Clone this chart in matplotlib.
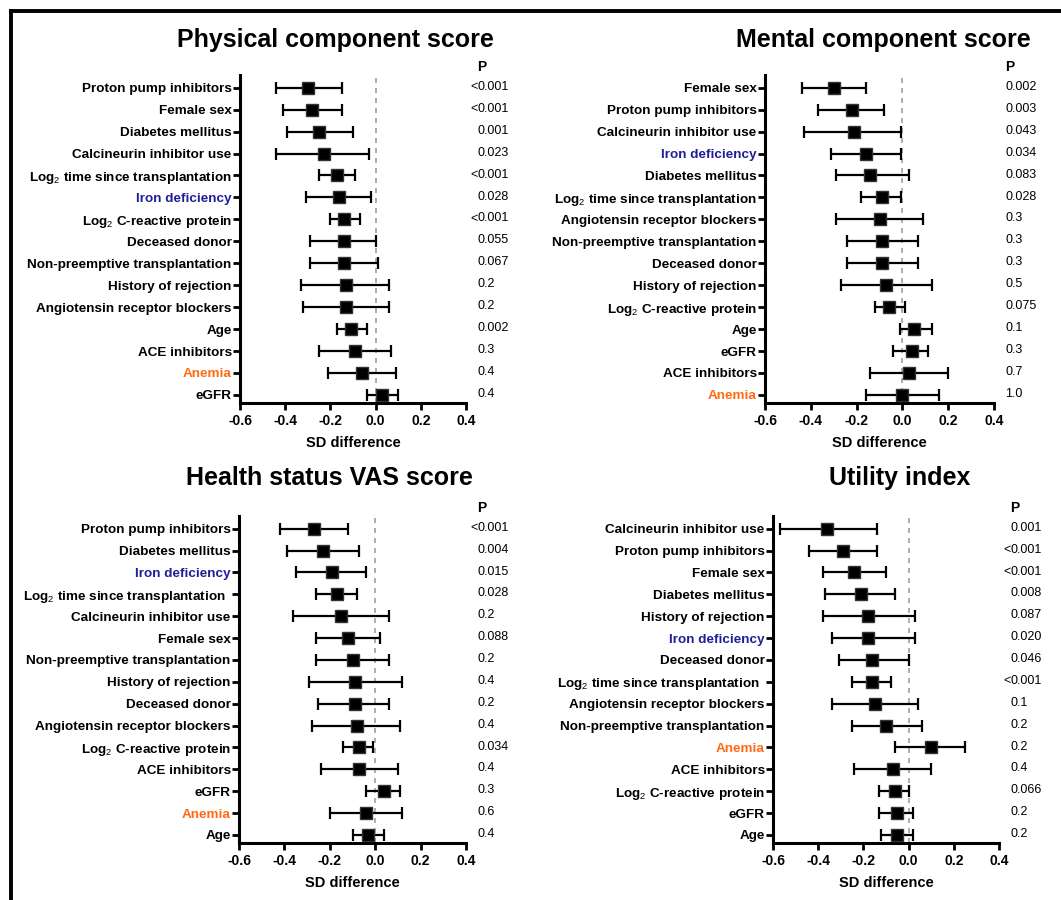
import matplotlib
matplotlib.use("Agg")
import matplotlib.pyplot as plt
from matplotlib.lines import Line2D

plt.rcParams["font.family"] = ["Liberation Sans", "DejaVu Sans"]
plt.rcParams["mathtext.fontset"] = "custom"
plt.rcParams["mathtext.rm"] = "Liberation Sans"
plt.rcParams["mathtext.it"] = "Liberation Sans"
plt.rcParams["mathtext.bf"] = "Liberation Sans:bold"

LOG2_TIME = "Log$_2$ time since transplantation"
LOG2_CRP = "Log$_2$ C-reactive protein"

# --- Physical component score ---
pcs_labels = ["Proton pump inhibitors", "Female sex", "Diabetes mellitus", "Calcineurin inhibitor use",
              LOG2_TIME, "Iron deficiency", LOG2_CRP, "Deceased donor", "Non-preemptive transplantation",
              "History of rejection", "Angiotensin receptor blockers", "Age", "ACE inhibitors", "Anemia", "eGFR"]
pcs_est = [-0.30, -0.28, -0.25, -0.23, -0.17, -0.16, -0.14, -0.14, -0.14, -0.13, -0.13, -0.11, -0.09, -0.06, 0.03]
pcs_lo = [-0.44, -0.41, -0.39, -0.44, -0.25, -0.31, -0.20, -0.29, -0.29, -0.33, -0.32, -0.17, -0.25, -0.21, -0.04]
pcs_hi = [-0.15, -0.15, -0.10, -0.03, -0.09, -0.02, -0.07, 0.00, 0.01, 0.06, 0.06, -0.04, 0.07, 0.09, 0.10]
pcs_p = ["<0.001", "<0.001", "0.001", "0.023", "<0.001", "0.028", "<0.001", "0.055", "0.067",
         "0.2", "0.2", "0.002", "0.3", "0.4", "0.4"]

# --- Mental component score ---
mcs_labels = ["Female sex", "Proton pump inhibitors", "Calcineurin inhibitor use", "Iron deficiency",
              "Diabetes mellitus", LOG2_TIME, "Angiotensin receptor blockers", "Non-preemptive transplantation",
              "Deceased donor", "History of rejection", LOG2_CRP, "Age", "eGFR", "ACE inhibitors", "Anemia"]
mcs_est = [-0.30, -0.22, -0.21, -0.16, -0.14, -0.09, -0.10, -0.09, -0.09, -0.07, -0.06, 0.05, 0.04, 0.03, 0.00]
mcs_lo = [-0.44, -0.37, -0.43, -0.31, -0.29, -0.18, -0.29, -0.24, -0.24, -0.27, -0.12, -0.01, -0.04, -0.14, -0.16]
mcs_hi = [-0.16, -0.08, -0.005, -0.005, 0.03, -0.005, 0.09, 0.07, 0.07, 0.13, 0.01, 0.13, 0.11, 0.20, 0.16]
mcs_p = ["0.002", "0.003", "0.043", "0.034", "0.083", "0.028", "0.3", "0.3", "0.3",
         "0.5", "0.075", "0.1", "0.3", "0.7", "1.0"]

# --- Health status VAS score ---
vas_labels = ["Proton pump inhibitors", "Diabetes mellitus", "Iron deficiency", LOG2_TIME + "\u00a0\u00a0",
              "Calcineurin inhibitor use", "Female sex", "Non-preemptive transplantation", "History of rejection",
              "Deceased donor", "Angiotensin receptor blockers", LOG2_CRP, "ACE inhibitors", "eGFR", "Anemia", "Age"]
vas_est = [-0.27, -0.23, -0.19, -0.17, -0.15, -0.12, -0.10, -0.09, -0.09, -0.08, -0.07, -0.07, 0.04, -0.04, -0.03]
vas_lo = [-0.42, -0.39, -0.35, -0.26, -0.36, -0.26, -0.26, -0.29, -0.25, -0.28, -0.14, -0.24, -0.04, -0.20, -0.10]
vas_hi = [-0.12, -0.07, -0.04, -0.08, 0.06, 0.02, 0.06, 0.12, 0.06, 0.11, -0.01, 0.10, 0.11, 0.12, 0.04]
vas_p = ["<0.001", "0.004", "0.015", "0.028", "0.2", "0.088", "0.2", "0.4", "0.2",
         "0.4", "0.034", "0.4", "0.3", "0.6", "0.4"]

# --- Utility index ---
ui_labels = ["Calcineurin inhibitor use", "Proton pump inhibitors", "Female sex", "Diabetes mellitus",
             "History of rejection", "Iron deficiency", "Deceased donor", LOG2_TIME + "\u00a0\u00a0",
             "Angiotensin receptor blockers", "Non-preemptive transplantation", "Anemia", "ACE inhibitors",
             LOG2_CRP, "eGFR", "Age"]
ui_est = [-0.36, -0.29, -0.24, -0.21, -0.18, -0.18, -0.16, -0.16, -0.15, -0.10, 0.10, -0.07, -0.06, -0.05, -0.05]
ui_lo = [-0.57, -0.44, -0.38, -0.37, -0.38, -0.34, -0.31, -0.25, -0.34, -0.25, -0.06, -0.24, -0.13, -0.13, -0.12]
ui_hi = [-0.14, -0.14, -0.10, -0.06, 0.03, 0.03, 0.00, -0.08, 0.04, 0.06, 0.25, 0.10, 0.00, 0.02, 0.02]
ui_p = ["0.001", "<0.001", "<0.001", "0.008", "0.087", "0.020", "0.046", "<0.001", "0.1",
        "0.2", "0.2", "0.4", "0.066", "0.2", "0.2"]

titles = ["Physical component score", "Mental component score", "Health status VAS score", "Utility index"]

BLUE = "#1f1f96"
ORANGE = "#ff6a13"

W, H = 1061, 900
fig = plt.figure(figsize=(W / 100, H / 100), dpi=100)


def px_axes(left, right, top, bottom):
    return fig.add_axes([left / W, 1 - bottom / H, (right - left) / W, (bottom - top) / H])


def draw_panel(ax, labels, est, lo, hi, pvals):
    rows = list(range(len(labels)))
    xerr = [[e - l for e, l in zip(est, lo)], [h - e for e, h in zip(est, hi)]]
    ax.axvline(0, color="#a0a0a0", lw=1.2, ls=(0, (3, 3)), zorder=1)
    ax.errorbar(est, rows, xerr=xerr, fmt="s", color="black", ms=9, mec="#333333",
                elinewidth=1.6, capsize=4, capthick=1.6, zorder=3)
    ax.set_xlim(-0.6, 0.4)
    ax.set_ylim(len(labels) - 1 + 0.37, -0.58)
    ax.set_xticks([-0.6, -0.4, -0.2, 0.0, 0.2, 0.4])
    ax.set_xticklabels(["-0.6", "-0.4", "-0.2", "0.0", "0.2", "0.4"], fontweight="bold", fontsize=10)
    ax.set_yticks(rows)
    ax.set_yticklabels(labels, fontweight="bold", fontsize=9.7)
    for t in ax.get_yticklabels():
        if t.get_text() == "Iron deficiency":
            t.set_color(BLUE)
        elif t.get_text() == "Anemia":
            t.set_color(ORANGE)
    ax.set_xlabel("SD difference", fontweight="bold", fontsize=10.5, labelpad=6)
    for s in ["top", "right"]:
        ax.spines[s].set_visible(False)
    for s in ["left", "bottom"]:
        ax.spines[s].set_linewidth(2.2)
    ax.tick_params(axis="both", width=2, length=5)
    ax.tick_params(axis="y", pad=1)
    ax.tick_params(axis="x", pad=3)
    # P value column
    px = 0.45
    ax.text(px, -0.95, "P", fontweight="bold", fontsize=10, ha="left", va="center", clip_on=False)
    for r, p in zip(rows, pvals):
        if p.startswith("<"):
            ax.text(px, r - 0.04, "<", fontsize=9, ha="right", va="center", clip_on=False)
            p = p[1:]
        ax.text(px, r - 0.04, p, fontsize=9, ha="left", va="center", clip_on=False)


ax1 = px_axes(240, 466, 75, 403)
ax2 = px_axes(765, 994, 75, 403)
ax3 = px_axes(239, 466, 516, 843)
ax4 = px_axes(773, 999, 516, 843)

draw_panel(ax1, pcs_labels, pcs_est, pcs_lo, pcs_hi, pcs_p)
draw_panel(ax2, mcs_labels, mcs_est, mcs_lo, mcs_hi, mcs_p)
draw_panel(ax3, vas_labels, vas_est, vas_lo, vas_hi, vas_p)
draw_panel(ax4, ui_labels, ui_est, ui_lo, ui_hi, ui_p)

title_pos = [(335, 40), (883, 40), (329, 478), (900, 478)]
for t, (x, y) in zip(titles, title_pos):
    fig.text(x / W, 1 - y / H, t, fontweight="bold", fontsize=18, ha="center", va="center")

# frame lines at the top and left edge
fig.add_artist(Line2D([11 / W, 11 / W], [0, 1 - 11 / H], color="black", lw=2.8, transform=fig.transFigure))
fig.add_artist(Line2D([11 / W, 1], [1 - 11 / H, 1 - 11 / H], color="black", lw=2.8, transform=fig.transFigure))

fig.savefig("out.png", dpi=100)
